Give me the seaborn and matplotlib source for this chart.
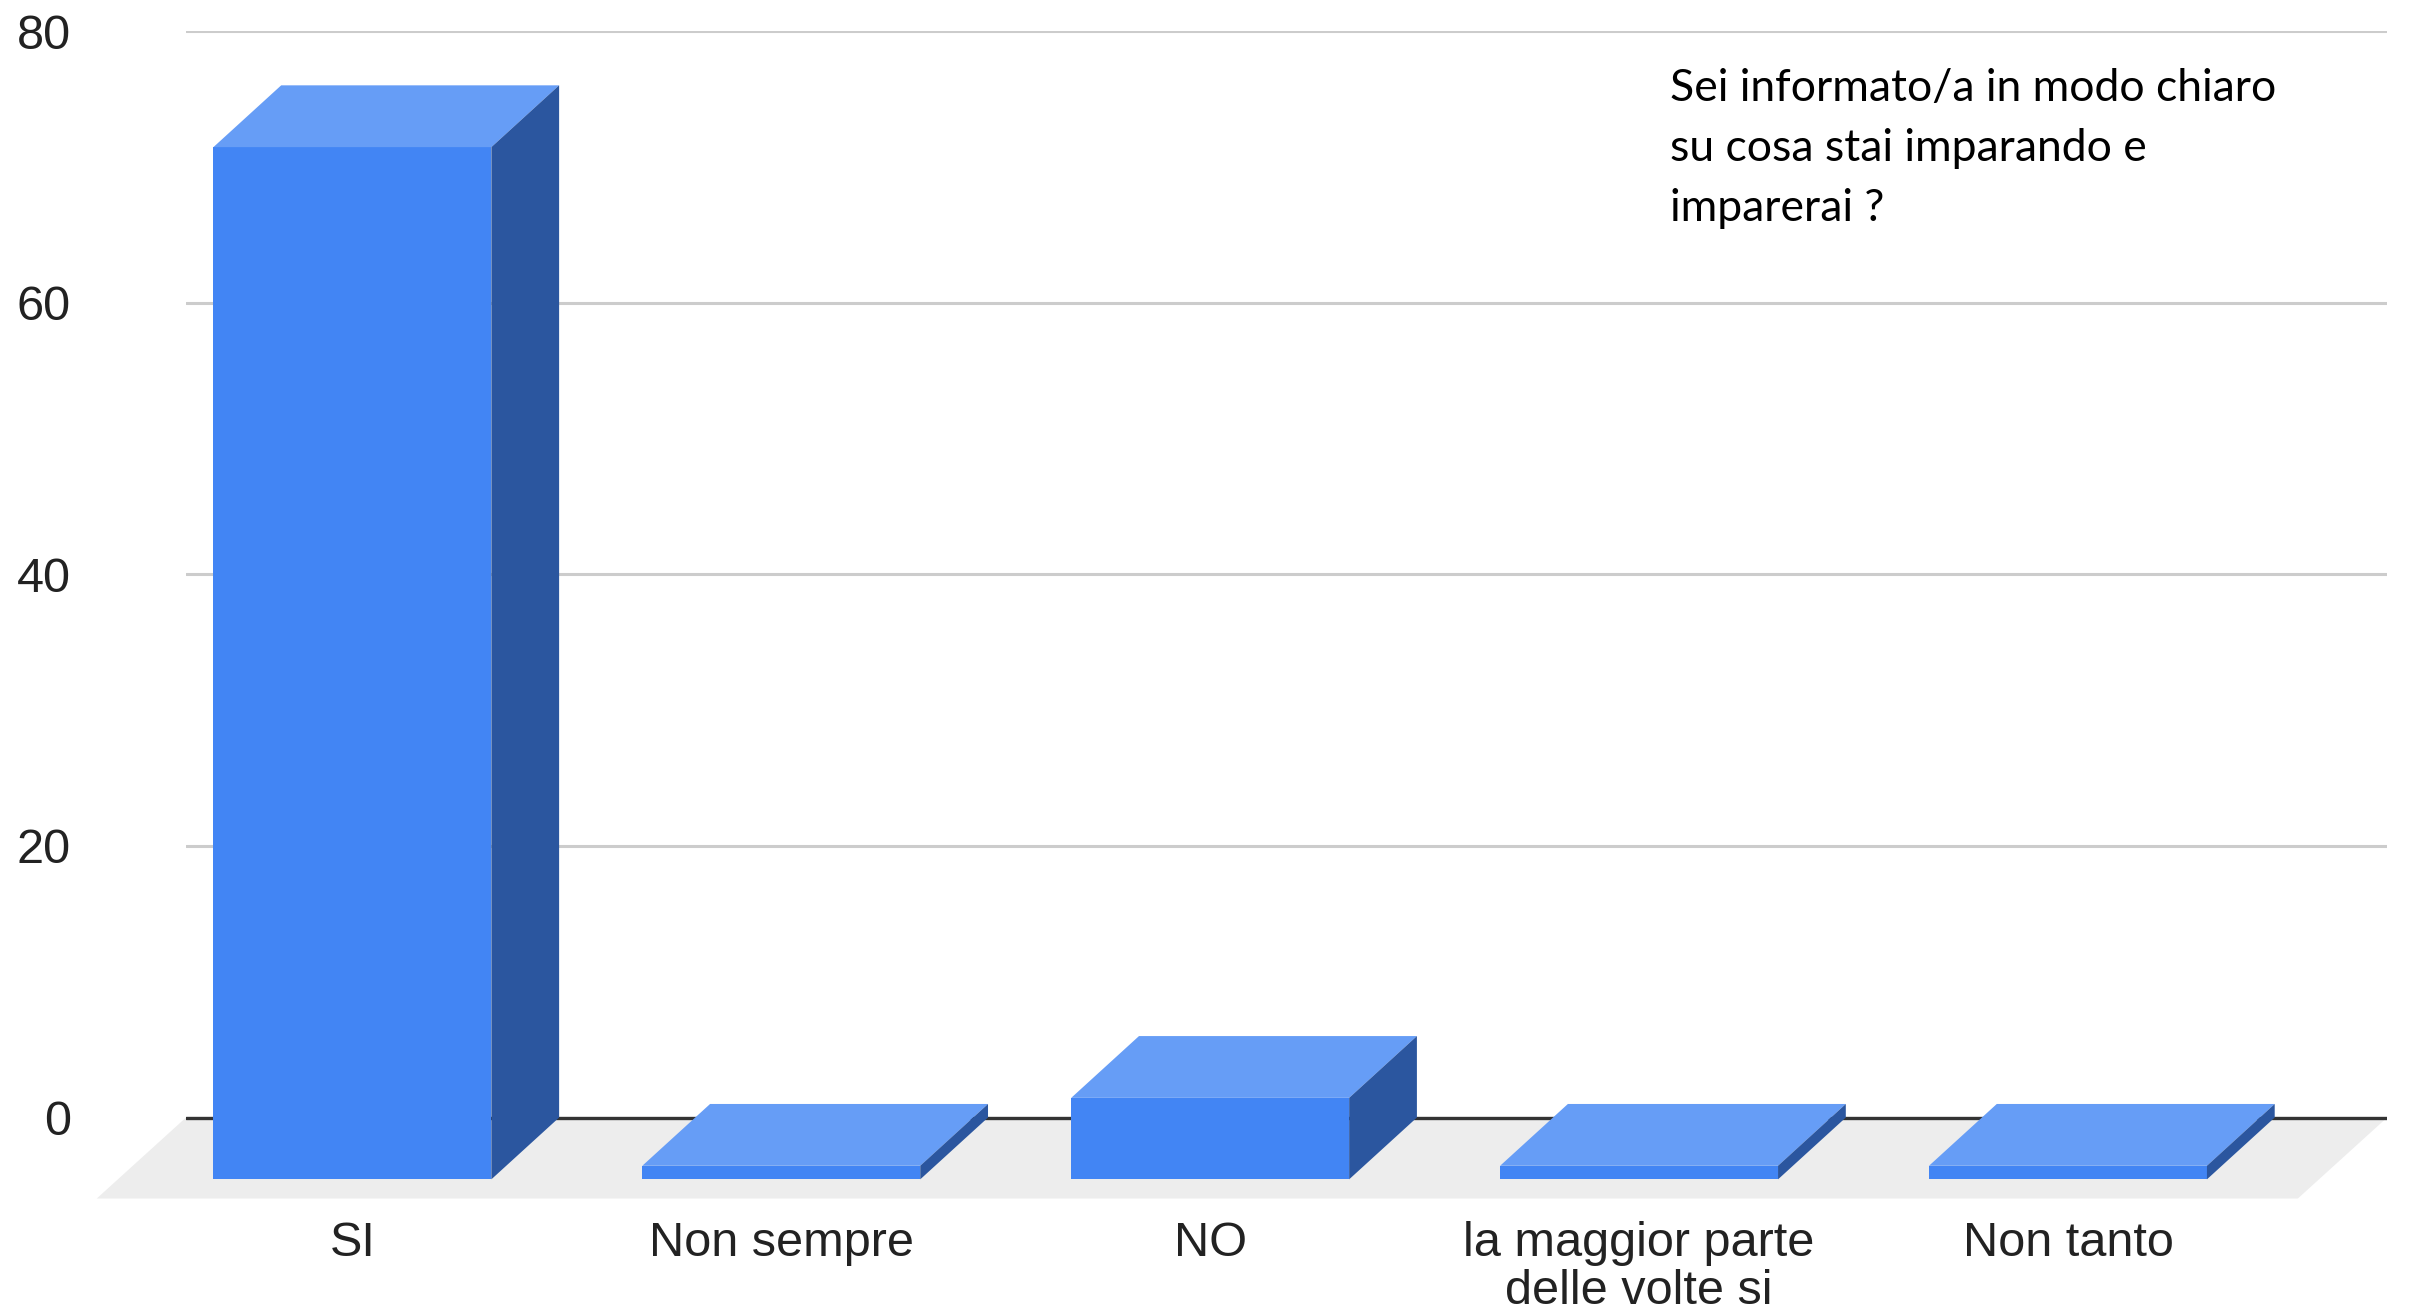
import matplotlib
matplotlib.use('Agg')
import matplotlib.pyplot as plt
import seaborn as sns
import numpy as np
from matplotlib.patches import Polygon

categories = ['SI', 'Non sempre', 'NO', 'la maggior parte\ndelle volte si', 'Non tanto']
values = [76, 1, 6, 1, 1]
y_ticks = [0, 20, 40, 60, 80]
question = 'Sei informato/a in modo chiaro\nsu cosa stai imparando e\nimparerai ?'

front_col = '#4285f4'
top_col = '#669df6'
side_col = '#2b569f'

# finta profondita' 3D (stile Google Sheets)
dx, dy = 0.158, 4.55      # sfalsamento barre
fdx, fdy = 0.208, 5.96    # sfalsamento pavimento
x_min, x_max = -0.546, 4.586

sns.set_style('white')
plt.rcParams['font.family'] = ['Liberation Sans', 'DejaVu Sans']

fig = plt.figure(figsize=(24.09, 13.14), dpi=100)
ax = fig.add_axes([0.0772, 0.0879, 0.9137, 0.8885])

sns.barplot(x=categories, y=values, color=front_col, saturation=1, width=0.648, ax=ax, zorder=3)

# facce frontali spostate in basso a sinistra, poi tetto e lato
for p in ax.patches[:]:
    x0 = p.get_x()
    w = p.get_width()
    h = p.get_height()
    p.set_x(x0 - dx)
    p.set_y(-dy)
    p.set_edgecolor('none')
    fx0, fx1 = x0 - dx, x0 - dx + w
    top = Polygon([(fx0, h - dy), (fx1, h - dy), (x0 + w, h), (x0, h)],
                  closed=True, facecolor=top_col, edgecolor='none', zorder=3)
    side = Polygon([(fx1, -dy), (x0 + w, 0), (x0 + w, h), (fx1, h - dy)],
                   closed=True, facecolor=side_col, edgecolor='none', zorder=3)
    ax.add_patch(top)
    ax.add_patch(side)

# pavimento grigio
floor = Polygon([(x_min, 0), (x_max, 0), (x_max - fdx, -fdy), (x_min - fdx, -fdy)],
                closed=True, facecolor='#ededed', edgecolor='none', zorder=0.5, clip_on=False)
ax.add_patch(floor)

ax.set_xlim(x_min, x_max)
ax.set_ylim(-fdy, 80)
ax.set_yticks(y_ticks)
ax.set_yticklabels([str(t) for t in y_ticks])
ax.set_xticks(np.arange(len(categories)) - dx)
ax.set_xticklabels(categories, linespacing=1.1)
ax.tick_params(axis='both', length=0, labelsize=35, colors='#222222')
ax.tick_params(axis='y', pad=83)
ax.tick_params(axis='x', pad=16)

ax.set_axisbelow(True)
ax.yaxis.grid(True, color='#cccccc', linewidth=2.2, zorder=1)
ax.xaxis.grid(False)
ax.axhline(0, color='#333333', linewidth=2.4, zorder=2)
for s in ax.spines.values():
    s.set_visible(False)
ax.set_xlabel('')
ax.set_ylabel('')

fig.text(1670 / 2409, 1 - 68 / 1314, question, fontsize=32, family=['Lato', 'DejaVu Sans'],
         va='top', ha='left', linespacing=1.58, color='black')

fig.savefig('out.png', dpi=100, facecolor='white')
